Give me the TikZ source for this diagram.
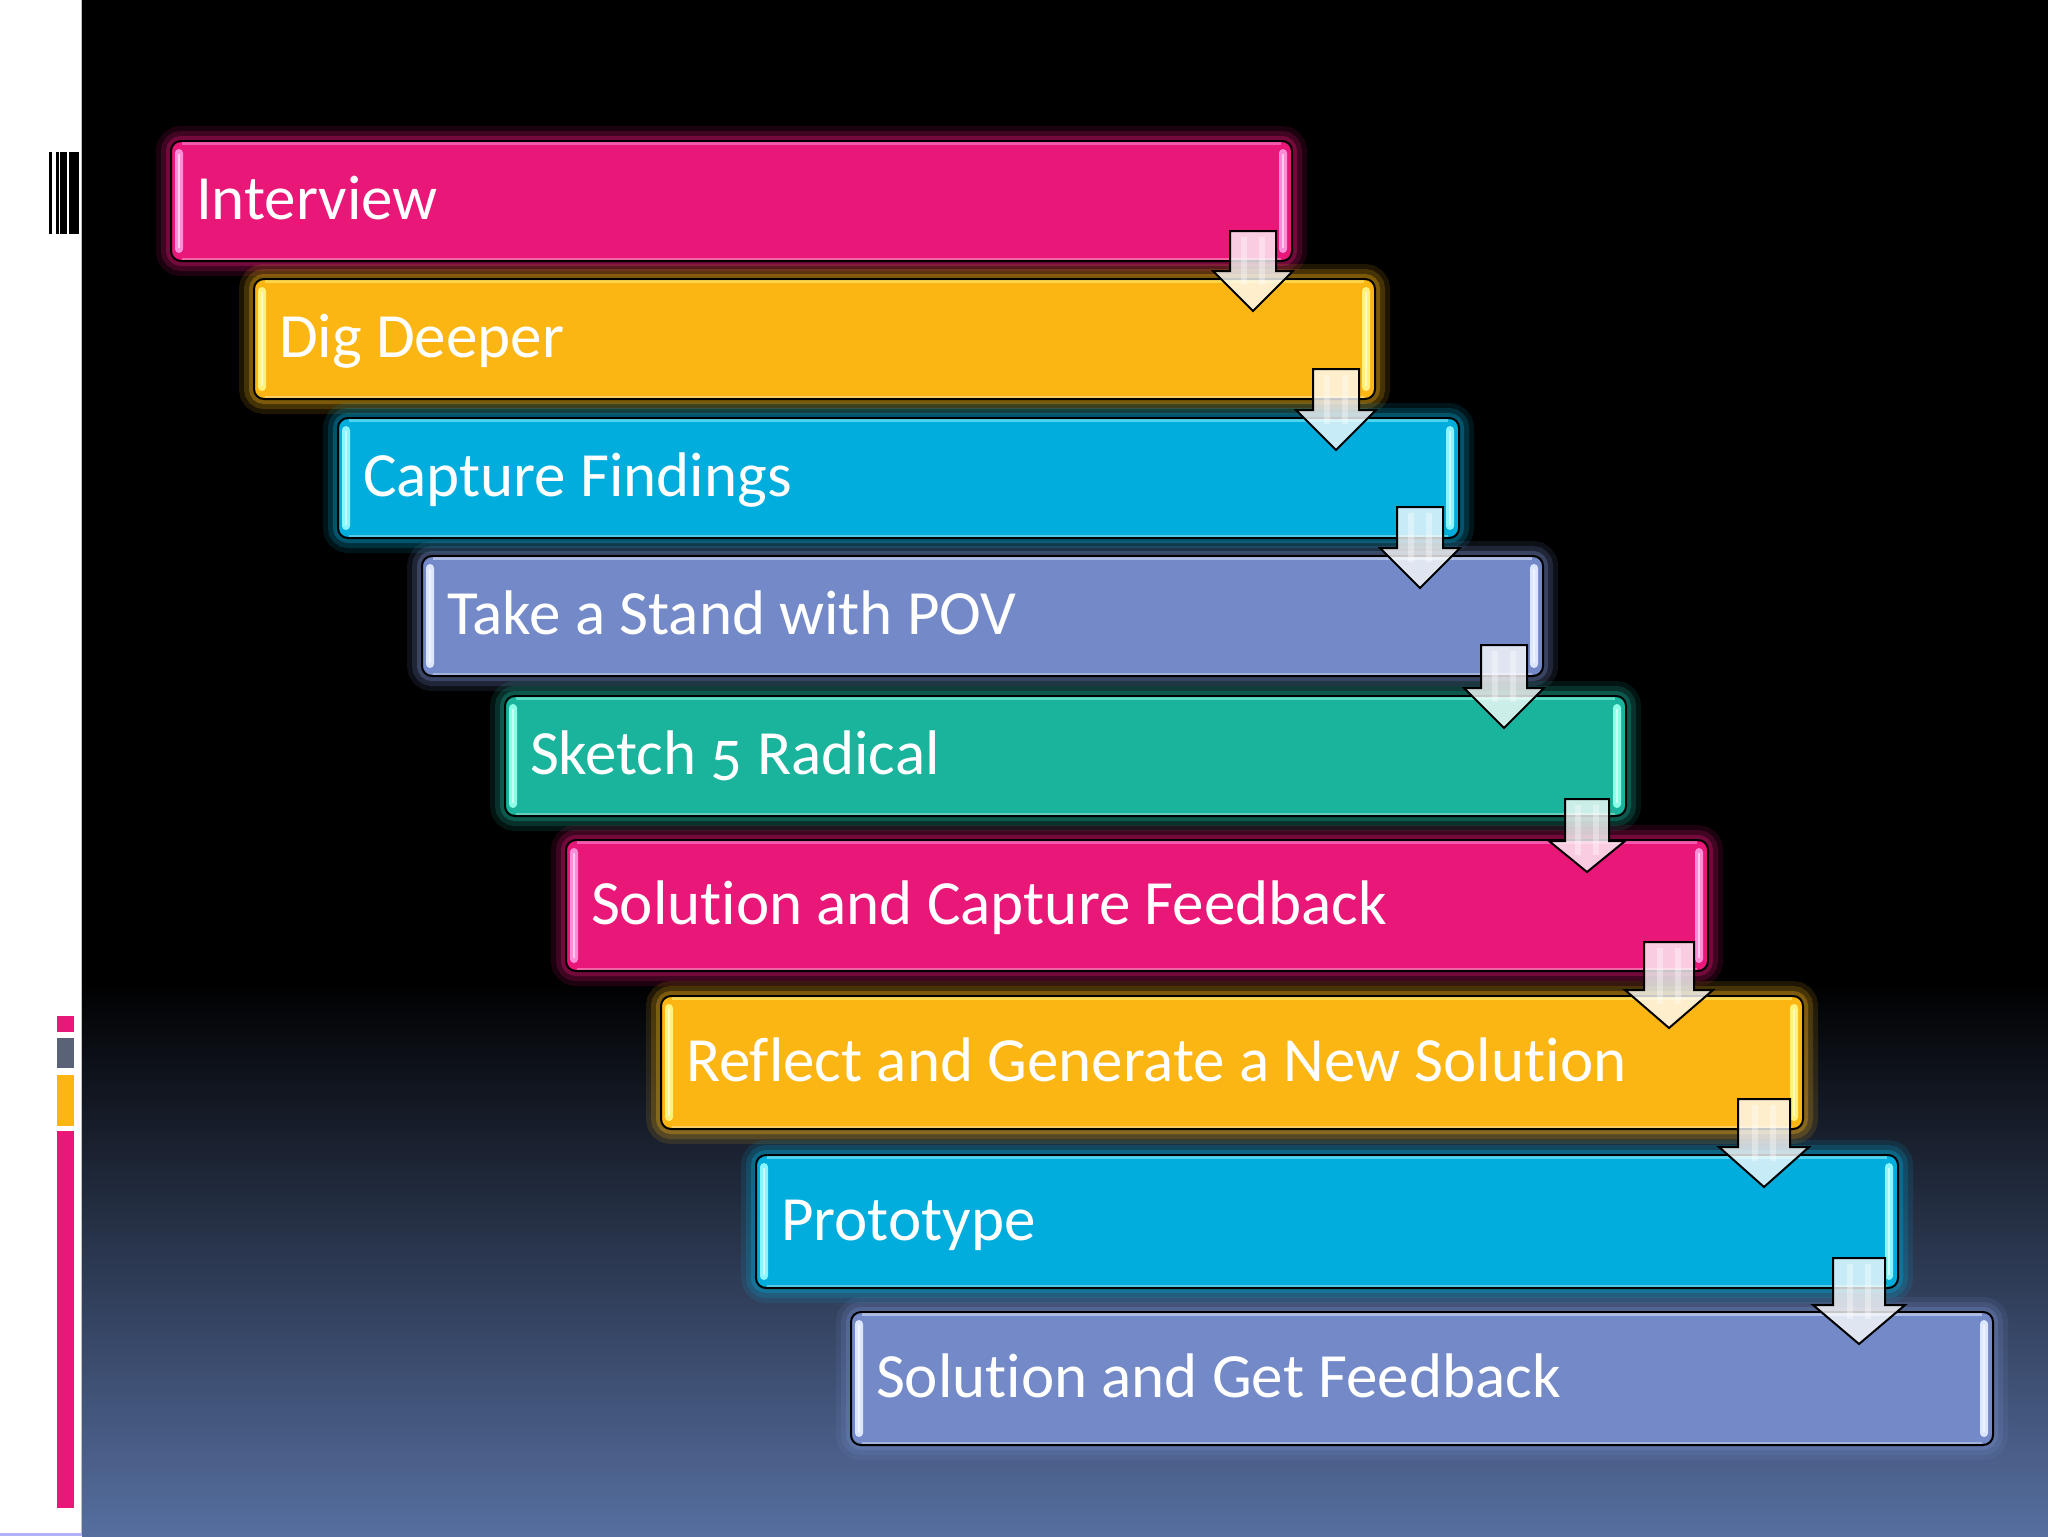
\documentclass[tikz,border=0pt]{standalone}
\usepackage{fontspec}
\setmainfont{Carlito}[Numbers=OldStyle, Ligatures=NoCommon]
\usetikzlibrary{calc}
\definecolor{cpink}{HTML}{E91778}
\definecolor{lpink}{HTML}{FF8ED8}
\definecolor{cyel}{HTML}{FBB614}
\definecolor{lyel}{HTML}{FFF27A}
\definecolor{ccyan}{HTML}{00ADDC}
\definecolor{lcyan}{HTML}{8AF4FF}
\definecolor{cperi}{HTML}{7489C7}
\definecolor{lperi}{HTML}{DCE6FF}
\definecolor{cteal}{HTML}{1AB39B}
\definecolor{lteal}{HTML}{8CFFE8}
\definecolor{bgblue}{HTML}{566FA0}
\definecolor{barsgray}{HTML}{5A6278}
\newcommand{\boxstrut}{\rule[-12.4pt]{0pt}{43.4pt}}
% highlights inside a box: #1 node name, #2 light colour
\newcommand{\glossbox}[2]{%
  \fill[#2, rounded corners=2pt] ($(#1.north west)+(5,9)$) rectangle ($(#1.south west)+(13,-9)$);
  \draw[white, opacity=0.55, line width=1pt] ($(#1.north west)+(9,14)$) -- ($(#1.south west)+(9,-14)$);
  \fill[#2, rounded corners=2pt] ($(#1.north east)+(-14,9)$) rectangle ($(#1.south east)+(-6,-9)$);
  \draw[white, opacity=0.55, line width=1pt] ($(#1.north east)+(-10,14)$) -- ($(#1.south east)+(-10,-14)$);
  \draw[#2, opacity=0.55, line width=1.5pt] ($(#1.north west)+(12,3.5)$) -- ($(#1.north east)+(-12,3.5)$);
  \draw[white, opacity=0.35, line width=1pt] ($(#1.south west)+(12,-3)$) -- ($(#1.south east)+(-12,-3)$);
}
% block arrow from box #1 to box #2; #3 shaft half width, #4 head half width,
% #5 shaft top offset from #1 bottom, #6 head base offset from #2 top
\newcommand{\flowarr}[6]{%
  \coordinate (aT) at ($(#1.south east)+(-40,#5)$);
  \coordinate (aB) at ($(#2.north)+(0,#6)$);
  \coordinate (aC) at ($(#2.north)+(0,33)$);
  \draw[arrowbody] ($(aT)+(-#3,0)$) -- ($(aT)+(#3,0)$) -- ($(aT|-aB)+(#3,0)$)
     -- ($(aT|-aB)+(#4,0)$) -- (aT|-aC) -- ($(aT|-aB)+(-#4,0)$)
     -- ($(aT|-aB)+(-#3,0)$) -- cycle;
  \draw[white, opacity=0.35, line width=3pt] ($(aT)+(-9,6)$) -- ($(aT|-aB)+(-9,14)$);
  \draw[white, opacity=0.35, line width=3pt] ($(aT)+(9,6)$) -- ($(aT|-aB)+(9,14)$);
}
\tikzset{
  stepbox/.style={draw=black, line width=1pt, rounded corners=5pt, anchor=north west,
    inner xsep=12.5pt, inner ysep=0pt, align=flush left, text=white,
    font=\fontsize{31.5}{37}\selectfont},
  shortbox/.style={minimum width=560.5pt, minimum height=60pt, text width=535.5pt},
  longbox/.style={minimum width=571pt, minimum height=66.5pt, text width=546pt},
  halo/.style={fill=#1,
    preaction={draw=#1, line width=15pt, opacity=0.12},
    preaction={draw=#1, line width=10pt, opacity=0.18},
    preaction={draw=#1, line width=5pt, opacity=0.3}},
  arrowbody/.style={draw=black, line width=1pt, fill=white, fill opacity=0.78, line join=miter}
}
\begin{document}
\begin{tikzpicture}[x=0.5pt,y=-0.5pt]
\useasboundingbox (0,0) rectangle (2048,1536);
% background
\fill[white] (0,0) rectangle (82,1536);
\fill[black] (82,0) rectangle (2048,981);
\shade[top color=black, bottom color=bgblue] (82,980) rectangle (2048,1536);
\draw[black!25, line width=0.6pt] (81.5,0) -- (81.5,1536);
\fill[black!8!blue!30] (0,1533) rectangle (82,1536);
% barcode marks
\fill[black] (49,152) rectangle (52,234);
\fill[black] (56,152) rectangle (58.5,234);
\fill[black] (60,152) rectangle (67,234);
\fill[black] (69,152) rectangle (79,234);
% colour bars
\fill[cpink] (57,1016) rectangle (74,1032);
\fill[barsgray] (57,1038) rectangle (74,1068);
\fill[cyel] (57,1075) rectangle (74,1126);
\fill[cpink] (57,1131) rectangle (74,1508);
% boxes
\node[stepbox, shortbox, halo=cpink] (b1) at (170,140) {\boxstrut Interview};
\glossbox{b1}{lpink}
\node[stepbox, shortbox, halo=cyel] (b2) at (253,278) {\boxstrut Dig Deeper};
\glossbox{b2}{lyel}
\node[stepbox, shortbox, halo=ccyan] (b3) at (337,417) {\boxstrut Capture Findings};
\glossbox{b3}{lcyan}
\node[stepbox, shortbox, halo=cperi] (b4) at (421,555) {\boxstrut Take a Stand with POV};
\glossbox{b4}{lperi}
\node[stepbox, shortbox, halo=cteal] (b5) at (504,695) {\boxstrut Sketch 5 Radical};
\glossbox{b5}{lteal}
\node[stepbox, longbox, halo=cpink, minimum height=65.5pt] (b6) at (565,839) {\boxstrut Solution and Capture Feedback};
\glossbox{b6}{lpink}
\node[stepbox, longbox, halo=cyel] (b7) at (660,995) {\boxstrut Reflect and Generate a New Solution};
\glossbox{b7}{lyel}
\node[stepbox, longbox, halo=ccyan] (b8) at (755,1154) {\boxstrut Prototype};
\glossbox{b8}{lcyan}
\node[stepbox, longbox, halo=cperi] (b9) at (850,1311) {\boxstrut Solution and Get Feedback};
\glossbox{b9}{lperi}
% arrows
\flowarr{b1}{b2}{23}{40}{-31}{-7}
\flowarr{b2}{b3}{23}{40}{-31}{-7}
\flowarr{b3}{b4}{23}{40}{-32}{-7}
\flowarr{b4}{b5}{23}{40}{-32}{-7}
\flowarr{b5}{b6}{22}{38}{-18}{2}
\flowarr{b6}{b7}{25}{44}{-30}{-5}
\flowarr{b7}{b8}{26}{45}{-31}{-7}
\flowarr{b8}{b9}{26}{46}{-31}{-6}
\end{tikzpicture}
\end{document}
